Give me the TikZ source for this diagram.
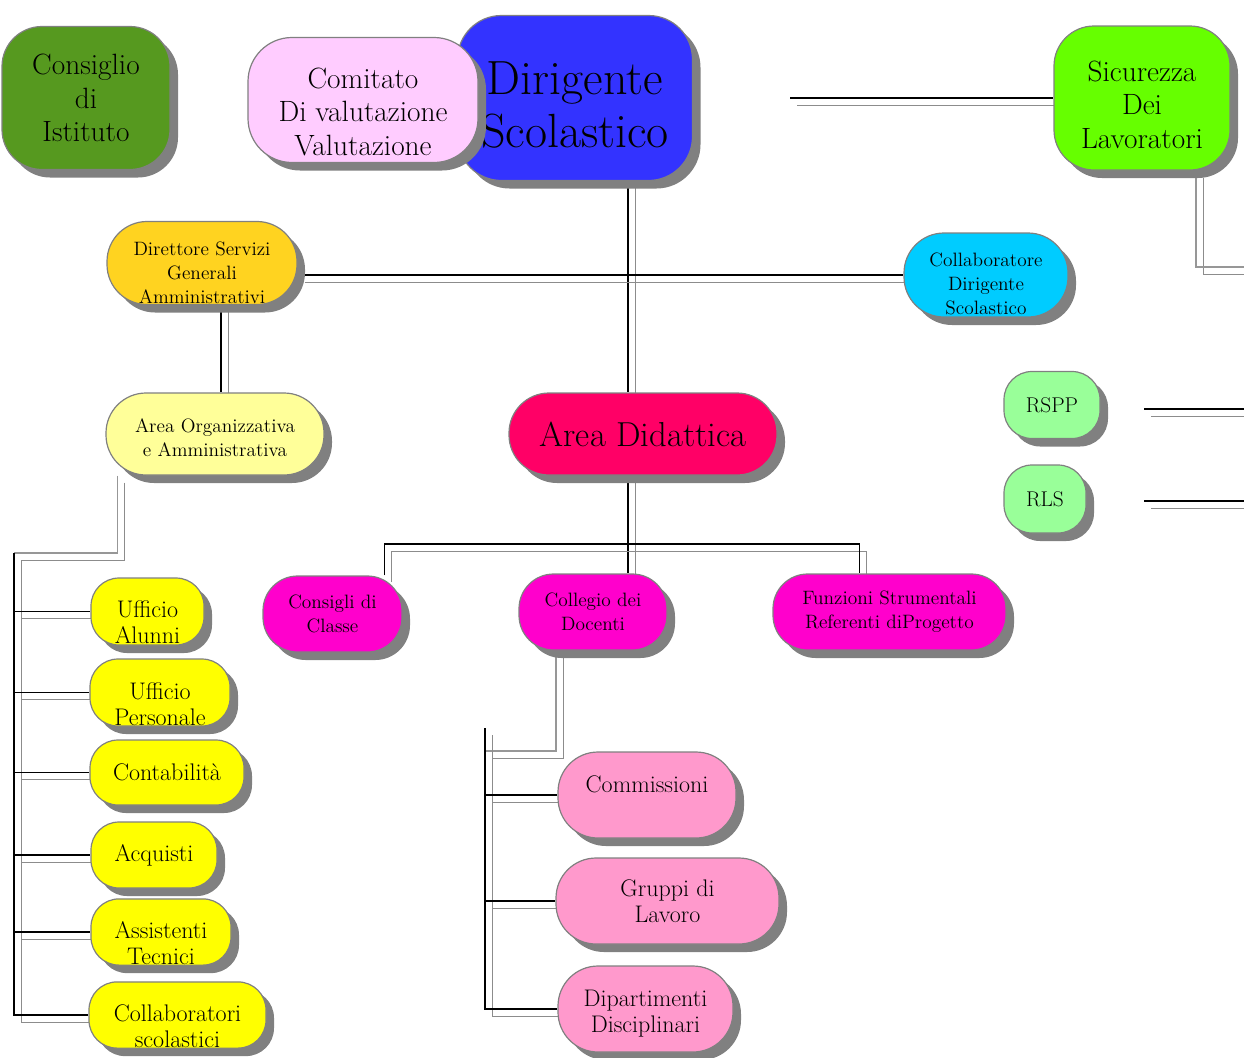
\documentclass[tikz,border=0pt]{standalone}
\usetikzlibrary{shadows,calc}

\pgfdeclarelayer{bg}
\pgfsetlayers{bg,main}

\definecolor{edge}{HTML}{808080}
\definecolor{shade}{HTML}{808080}
\definecolor{wire}{HTML}{8C8C8C}
\definecolor{cIstituto}{HTML}{56991F}
\definecolor{cComitato}{HTML}{FFCCFF}
\definecolor{cDirigente}{HTML}{3333FF}
\definecolor{cSicurezza}{HTML}{66FF00}
\definecolor{cDsga}{HTML}{FFD320}
\definecolor{cCollab}{HTML}{00CCFF}
\definecolor{cAreaOrg}{HTML}{FFFF99}
\definecolor{cDidattica}{HTML}{FF0066}
\definecolor{cSafety}{HTML}{99FF99}
\definecolor{cUffici}{HTML}{FFFF00}
\definecolor{cOrgani}{HTML}{FF00CC}
\definecolor{cGruppi}{HTML}{FF99CC}

\begin{document}
\begin{tikzpicture}[
        x = 0.75pt, y = -0.75pt, % one unit = one pixel of the sheet
        wh/.style 2 args = {minimum width = #1*0.75pt, minimum height = #2*0.75pt},
        blob/.style = {
            draw = edge,
            line width = 0.9pt,
            rounded corners = #1,
            inner sep = 1pt,
            align = center,
            text = black,
            drop shadow = {shadow xshift = 6pt, shadow yshift = -6pt, fill = shade, opacity = 1}
        },
        blob/.default = 21pt,
        tdrop/.style = {text height = #1, inner ysep = 0pt}, % taller text box: lines sit lower
        link/.style = {
            draw = black,
            line width = 1.3pt,
            preaction = {draw = wire, transform canvas = {shift = {(5.25pt,-5.25pt)}}} % grey twin line
        },
        softlink/.style = {link, draw = wire!90},
        txtS/.style = {font = \fontsize{14.5}{18}\selectfont},
        txtR/.style = {font = \fontsize{16}{19.5}\selectfont},
        txtM/.style = {font = \fontsize{18}{19.5}\selectfont},
        txtL/.style = {font = \fontsize{22}{25}\selectfont},
        txtXL/.style = {font = \fontsize{26}{30}\selectfont},
        txtXXL/.style = {font = \fontsize{36}{40}\selectfont}
    ]

    \useasboundingbox (0,0) rectangle (1244,1057);

    % top row
    \node[blob=30pt, wh={168}{143}, fill=cIstituto, txtL] (consiglio) at (86,98) {Consiglio\\di\\Istituto};
    \node[blob=33pt, wh={235}{165}, fill=cDirigente, txtXXL, tdrop=75pt] (ds) at (575,98) {Dirigente\\Scolastico};
    \node[blob=33pt, wh={230}{125}, fill=cComitato, txtL, tdrop=83pt] (comitato) at (363,100) {Comitato\\Di valutazione\\Valutazione};
    \node[blob=30pt, wh={176}{144}, fill=cSicurezza, txtL, tdrop=75.5pt] (sicurezza) at (1142,98) {Sicurezza\\Dei\\Lavoratori};

    % staff
    \node[blob=30pt, wh={190}{83}, fill=cDsga, txtS, tdrop=61pt] (dsga) at (202,263) {Direttore Servizi\\Generali\\Amministrativi};
    \node[blob=30pt, wh={164}{84}, fill=cCollab, txtS, tdrop=59.5pt] (collab) at (986,275) {Collaboratore\\Dirigente\\Scolastico};
    \node[blob=30pt, wh={218}{82}, fill=cAreaOrg, txtS, tdrop=34pt] (areaorg) at (215,434) {Area Organizzativa\\e Amministrativa};
    \node[blob=30pt, wh={268}{82}, fill=cDidattica, txtXL] (areadid) at (643,434) {Area Didattica};
    \node[blob, wh={96}{67}, fill=cSafety, txtR] (rspp) at (1052,405) {RSPP};
    \node[blob, wh={82}{68}, fill=cSafety, txtR] (rls) at (1045,499) {RLS};

    % uffici
    \node[blob, wh={113}{67}, fill=cUffici, txtM, tdrop=48.5pt] (ufalunni) at (147.5,611.5) {Ufficio\\Alunni};
    \node[blob, wh={140}{67}, fill=cUffici, txtM, tdrop=50pt] (ufpers) at (160,692.5) {Ufficio\\Personale};
    \node[blob, wh={154}{65}, fill=cUffici, txtM] (contab) at (167,772.5) {Contabilit\`a};
    \node[blob, wh={126}{66}, fill=cUffici, txtM] (acquisti) at (154,855) {Acquisti};
    \node[blob, wh={140}{66}, fill=cUffici, txtM, tdrop=49.5pt] (assist) at (161,932) {Assistenti\\Tecnici};
    \node[blob, wh={177}{66}, fill=cUffici, txtM, tdrop=49.5pt] (collscol) at (177.5,1015) {Collaboratori\\scolastici};

    % organi collegiali
    \node[blob=26pt, wh={139}{76}, fill=cOrgani, txtS] (consclasse) at (332.5,614) {Consigli di\\Classe};
    \node[blob=26pt, wh={148}{76}, fill=cOrgani, txtS] (collegio) at (593,612) {Collegio dei\\Docenti};
    \node[blob=26pt, wh={233}{76}, fill=cOrgani, txtS] (funzioni) at (889.5,612) {Funzioni Strumentali\\Referenti diProgetto};

    \node[blob=30pt, wh={178}{86}, fill=cGruppi, txtM, text depth=16.5pt] (commiss) at (647,795) {Commissioni};
    \node[blob=30pt, wh={223}{86}, fill=cGruppi, txtM] (gruppi) at (667.5,901) {Gruppi di\\Lavoro};
    \node[blob=30pt, wh={175}{86}, fill=cGruppi, txtM, tdrop=39.3pt] (dipart) at (645.5,1009) {Dipartimenti\\Disciplinari};

    \coordinate (sicin) at (790,98);
    \coordinate (sicout) at (1244,267);
    \coordinate (rsppin) at (1144,409);
    \coordinate (rsppout) at (1244,409);
    \coordinate (rlsin) at (1144,501);
    \coordinate (rlsout) at (1244,501);
    \coordinate (hbar) at (628,544);
    \coordinate (busL) at (14,553);
    \coordinate (busM) at (485,751);

    \begin{pgfonlayer}{bg}
        \draw[link] (sicin) -- (sicurezza.west);
        \draw[softlink] (sicurezza.south) ++(54,0) |- (sicout);
        \draw[link] (rsppin) -- (rsppout);
        \draw[link] (rlsin) -- (rlsout);

        \draw[link] (ds.south) ++(53,0) coordinate (trunk) -- (trunk |- areadid.north);
        \draw[link] (dsga.east |- collab.west) -- (collab.west);
        \draw[link] (dsga.south) ++(19,0) coordinate (dsgadown) -- (dsgadown |- areaorg.north);

        \draw[link] (trunk |- areadid.south) -- (trunk |- collegio.north);
        \draw[link] ($(consclasse.north)+(52,0)$) |- (hbar) -| ($(funzioni.north)+(-30,0)$);

        \draw[softlink] (areaorg.south west) ++(12,0) |- (busL);
        \draw[link] (busL) |- (collscol.west);
        \foreach \n in {ufalunni,ufpers,contab,acquisti,assist}
            \draw[link] (busL |- \n.west) -- (\n.west);

        \draw[softlink] ($(collegio.south)+(-37,0)$) |- (busM);
        \draw[link] (busM) ++(0,-23) |- (dipart.west);
        \foreach \n in {commiss,gruppi}
            \draw[link] (busM |- \n.west) -- (\n.west);
    \end{pgfonlayer}

\end{tikzpicture}
\end{document}
